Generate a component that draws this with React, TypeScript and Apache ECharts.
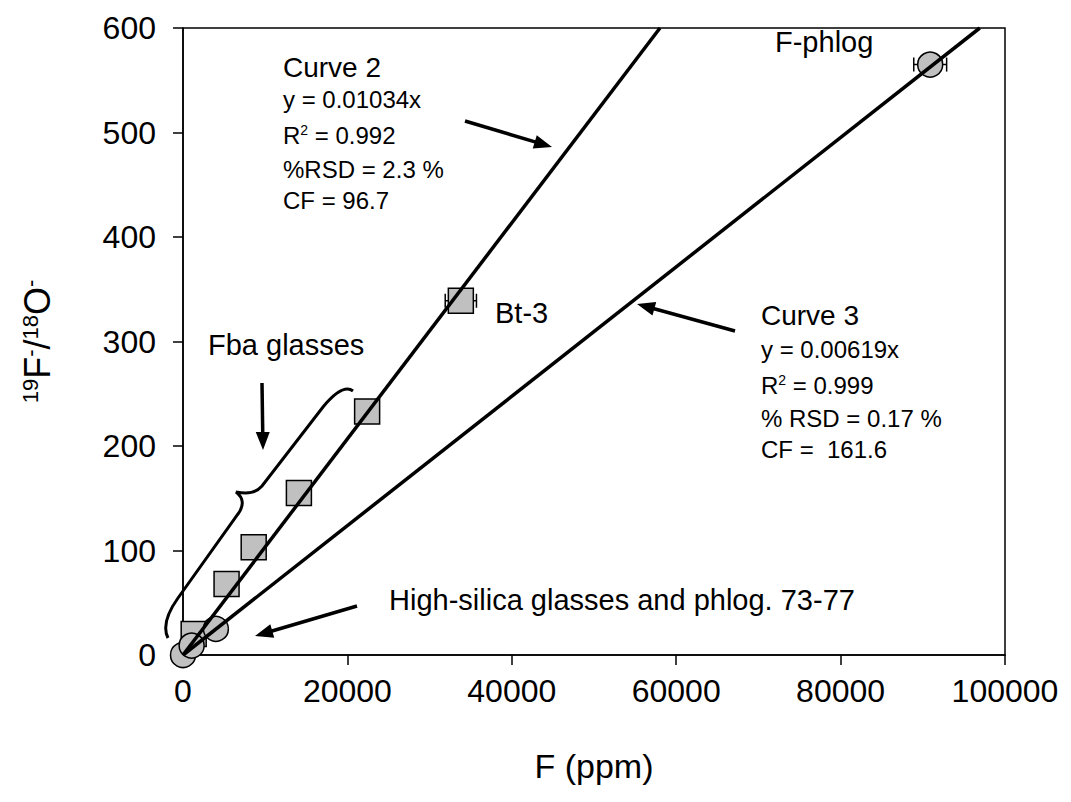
import React, { useEffect, useRef } from "react";
import * as echarts from "echarts";

// ---- data ----
const fbaGlassesF = [1300, 5300, 8600, 14100, 22400];
const fbaGlassesRatio = [20, 68, 103, 155, 233];
const bt3F = [33800];
const bt3Ratio = [339];
const bt3Err = [1900];
const highSilicaF = [0, 1050, 4000];
const highSilicaRatio = [0, 9, 25];
const fPhlogF = [90900];
const fPhlogRatio = [565];
const fPhlogErr = [2000];
const curve2Slope = 0.01034;
const curve3Slope = 0.00619;
const xMax = 100000;
const yMax = 600;

const FONT = "'Liberation Sans', Arial, sans-serif";

const bracePath =
  "M 353 391 C 345 385 333 395 323 407 L 262 486 C 256 493 248 494 236 492 C 244 498 244 506 238 514 L 178 598 C 168 612 162 626 168 638";
echarts.graphic.registerShape("brace", echarts.graphic.extendPath(bracePath, {}) as any);

function arrow(x1: number, y1: number, x2: number, y2: number) {
  const headLen = 18;
  const headW = 14;
  const dx = x2 - x1;
  const dy = y2 - y1;
  const len = Math.hypot(dx, dy);
  const ux = dx / len;
  const uy = dy / len;
  const bx = x2 - ux * headLen;
  const by = y2 - uy * headLen;
  const px = -uy;
  const py = ux;
  return [
    {
      type: "line",
      z: 20,
      shape: { x1, y1, x2: bx + ux * 2, y2: by + uy * 2 },
      style: { stroke: "#000", lineWidth: 3.5 },
    },
    {
      type: "polygon",
      z: 20,
      shape: {
        points: [
          [x2, y2],
          [bx + (px * headW) / 2, by + (py * headW) / 2],
          [bx - (px * headW) / 2, by - (py * headW) / 2],
        ],
      },
      style: { fill: "#000" },
    },
  ];
}

function label(x: number, y: number, text: string, size: number) {
  return {
    type: "text",
    z: 20,
    x,
    y,
    style: {
      text,
      fontSize: size,
      fontFamily: FONT,
      fill: "#000",
      align: "left",
      verticalAlign: "middle",
      rich: {
        sup: { fontSize: Math.round(size * 0.6), fontFamily: FONT, fill: "#000", verticalAlign: "top" },
      },
    },
  };
}

export default function App() {
  const ref = useRef<HTMLDivElement>(null);
  useEffect(() => {
    if (!ref.current) return;
    const chart = echarts.init(ref.current, null, { renderer: "svg" });

    const errRender = (params: any, api: any) => {
      const x = api.value(0);
      const y = api.value(1);
      const e = api.value(2);
      const p1 = api.coord([x - e, y]);
      const p2 = api.coord([x + e, y]);
      const st = { stroke: "#000", lineWidth: 1.5 };
      return {
        type: "group",
        children: [
          { type: "line", shape: { x1: p1[0], y1: p1[1], x2: p2[0], y2: p2[1] }, style: st },
          { type: "line", shape: { x1: p1[0], y1: p1[1] - 7, x2: p1[0], y2: p1[1] + 7 }, style: st },
          { type: "line", shape: { x1: p2[0], y1: p2[1] - 7, x2: p2[0], y2: p2[1] + 7 }, style: st },
        ],
      };
    };

    const axisStyle = { color: "#000", width: 1.5 };

    chart.setOption({
      animation: false,
      backgroundColor: "#fff",
      grid: {
        left: 183,
        right: 66,
        top: 28,
        bottom: 147,
        show: true,
        borderColor: "#000",
        borderWidth: 1.5,
        backgroundColor: "transparent",
      },
      xAxis: {
        type: "value",
        min: 0,
        max: xMax,
        interval: 20000,
        axisLine: { show: true, lineStyle: axisStyle },
        axisTick: { show: true, inside: false, length: 10, lineStyle: axisStyle },
        axisLabel: {
          fontSize: 32,
          color: "#000",
          fontFamily: FONT,
          margin: 20,
          formatter: (v: number) => String(v),
        },
        splitLine: { show: false },
        name: "F (ppm)",
        nameLocation: "middle",
        nameGap: 94,
        nameTextStyle: { fontSize: 34, color: "#000", fontFamily: FONT },
      },
      yAxis: {
        type: "value",
        min: 0,
        max: yMax,
        interval: 100,
        axisLine: { show: true, lineStyle: axisStyle },
        axisTick: { show: true, inside: false, length: 10, lineStyle: axisStyle },
        axisLabel: {
          fontSize: 32,
          color: "#000",
          fontFamily: FONT,
          margin: 27,
          formatter: (v: number) => String(v),
        },
        splitLine: { show: false },
        name: "{sup|19}F{sup|-}/{sup|18}O{sup|-}",
        nameLocation: "middle",
        nameGap: 128,
        nameTextStyle: {
          fontSize: 36,
          color: "#000",
          fontFamily: FONT,
          rich: {
            sup: { fontSize: 22, color: "#000", fontFamily: FONT, verticalAlign: "top" },
          },
        },
      },
      series: [
        {
          type: "custom",
          z: 2,
          renderItem: errRender,
          data: bt3F.map((f, i) => [f, bt3Ratio[i], bt3Err[i]]).concat(
            fPhlogF.map((f, i) => [f, fPhlogRatio[i], fPhlogErr[i]])
          ),
          silent: true,
        },
        {
          type: "scatter",
          name: "Fba glasses",
          z: 3,
          symbol: "rect",
          symbolSize: 25,
          itemStyle: { color: "#c0c0c0", borderColor: "#000", borderWidth: 1.5, opacity: 1 },
          data: fbaGlassesF.map((f, i) => [f, fbaGlassesRatio[i]]).concat(bt3F.map((f, i) => [f, bt3Ratio[i]])),
        },
        {
          type: "scatter",
          name: "High-silica",
          z: 4,
          symbol: "circle",
          symbolSize: 25,
          itemStyle: { color: "#c0c0c0", borderColor: "#000", borderWidth: 1.5, opacity: 1 },
          data: highSilicaF.map((f, i) => [f, highSilicaRatio[i]]).concat(fPhlogF.map((f, i) => [f, fPhlogRatio[i]])),
        },
        {
          type: "line",
          name: "Curve 2",
          z: 5,
          symbol: "none",
          lineStyle: { color: "#000", width: 3.5 },
          data: [
            [0, 0],
            [yMax / curve2Slope, yMax],
          ],
        },
        {
          type: "line",
          name: "Curve 3",
          z: 5,
          symbol: "none",
          lineStyle: { color: "#000", width: 3.5 },
          data: [
            [0, 0],
            [yMax / curve3Slope, yMax],
          ],
        },
      ],
      graphic: [
        {
          type: "brace",
          z: 20,
          x: 0,
          y: 0,
          shape: {},
          style: { fill: null, stroke: "#000", lineWidth: 3 },
        },
        label(283, 67, "Curve 2", 28),
        label(283, 99, "y = 0.01034x", 24),
        label(283, 135, "R{sup|2} = 0.992", 24),
        label(283, 169, "%RSD = 2.3 %", 24),
        label(283, 200, "CF = 96.7", 24),
        label(761, 315, "Curve 3", 28),
        label(761, 349, "y = 0.00619x", 24),
        label(761, 385, "R{sup|2} = 0.999", 24),
        label(761, 418, "% RSD = 0.17 %", 24),
        label(761, 449, "CF =  161.6", 24),
        label(775, 42, "F-phlog", 29),
        label(495, 313, "Bt-3", 29),
        label(208, 345, "Fba glasses", 29),
        label(389, 600, "High-silica glasses and phlog. 73-77", 29),
        ...arrow(465, 121, 552, 147),
        ...arrow(735, 331, 637, 304),
        ...arrow(262, 383, 263, 450),
        ...arrow(357, 606, 255, 636),
      ],
    });
    return () => chart.dispose();
  }, []);
  return (
    <div
      ref={ref}
      style={{ position: "absolute", left: 0, top: 0, width: 1071, height: 802, background: "#fff" }}
    />
  );
}
